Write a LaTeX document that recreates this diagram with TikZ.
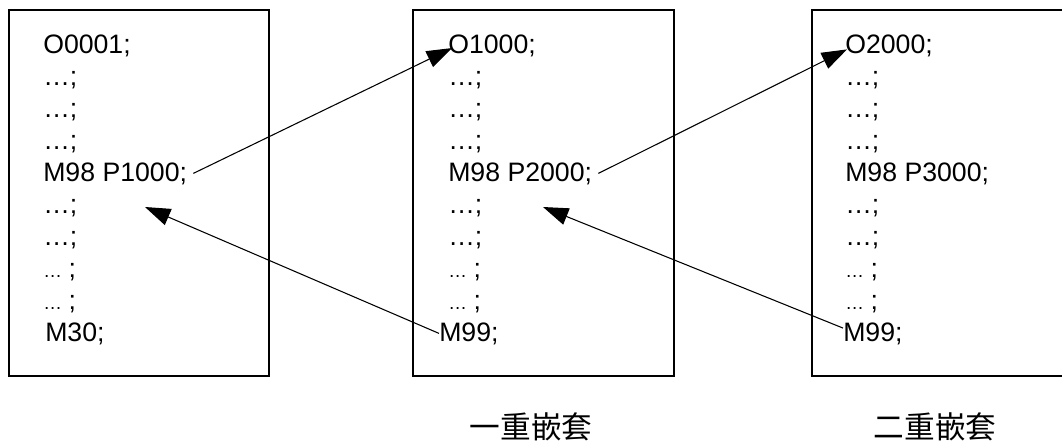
\documentclass[tikz,border=0pt]{standalone}
\usepackage{fontspec}
\setmainfont{Liberation Sans}
\newfontfamily\cjk{Noto Sans CJK SC}
\usetikzlibrary{arrows.meta}

\newcommand{\skipline}{…;}
\newcommand{\skipshort}{{\fontsize{14}{14}\selectfont …}\hspace{5pt};}

\begin{document}
\begin{tikzpicture}[x=0.75pt,y=-0.75pt,>={Triangle[length=19pt,width=13pt]},
  codeline/.style={anchor=base west,inner sep=0pt,font=\fontsize{20}{24}\selectfont},
  nesttag/.style={font=\cjk\fontsize{23}{28}\selectfont}]
 \useasboundingbox (0,0) rectangle (1062,444);
 % program boxes
 \draw[line width=1pt] (9,10) rectangle (269,376);
 \draw[line width=1pt] (413,10) rectangle (674,376);
 \draw[line width=1pt] (1063,10) -| (812,376) -- (1063,376);
 % main program
 \node[codeline] (o0001) at (43,53) {O0001;};
 \foreach \y [count=\i] in {85,117,149,213,245}
  \node[codeline] (skipa\i) at (43,\y) {\skipline};
 \node[codeline] (m98a) at (43,181) {M98 P1000;};
 \node[codeline] (shorta1) at (43,277) {\skipshort};
 \node[codeline] (shorta2) at (43,309) {\skipshort};
 \node[codeline] (m30) at (45,341) {M30;};
 % first subprogram
 \node[codeline] (o1000) at (448,53) {O1000;};
 \foreach \y [count=\i] in {85,117,149,213,245}
  \node[codeline] (skipb\i) at (448,\y) {\skipline};
 \node[codeline] (m98b) at (448,181) {M98 P2000;};
 \node[codeline] (shortb1) at (448,277) {\skipshort};
 \node[codeline] (shortb2) at (448,309) {\skipshort};
 \node[codeline] (m99b) at (439,341) {M99;};
 % second subprogram
 \node[codeline] (o2000) at (845,53) {O2000;};
 \foreach \y [count=\i] in {85,117,149,213,245}
  \node[codeline] (skipc\i) at (845,\y) {\skipline};
 \node[codeline] (m98c) at (845,181) {M98 P3000;};
 \node[codeline] (shortc1) at (845,277) {\skipshort};
 \node[codeline] (shortc2) at (845,309) {\skipshort};
 \node[codeline] (m99c) at (843,341) {M99;};
 % calls and returns
 \coordinate (backa) at (145,207);
 \coordinate (backb) at (543,207);
 \draw[->,line width=0.8pt] ([xshift=4.5pt]m98a.east) -- ([xshift=3pt,yshift=-2pt]o1000.west);
 \draw[->,line width=0.8pt] ([xshift=4.5pt]m98b.east) -- ([xshift=1.5pt,yshift=-3pt]o2000.west);
 \draw[->,line width=0.8pt] (m99b.west) -- (backa);
 \draw[->,line width=0.8pt] ([yshift=4pt]m99c.west) -- (backb);
 \node[nesttag] (nest1) at (531,427) {一重嵌套};
 \node[nesttag] (nest2) at (935,427) {二重嵌套};
\end{tikzpicture}
\end{document}
